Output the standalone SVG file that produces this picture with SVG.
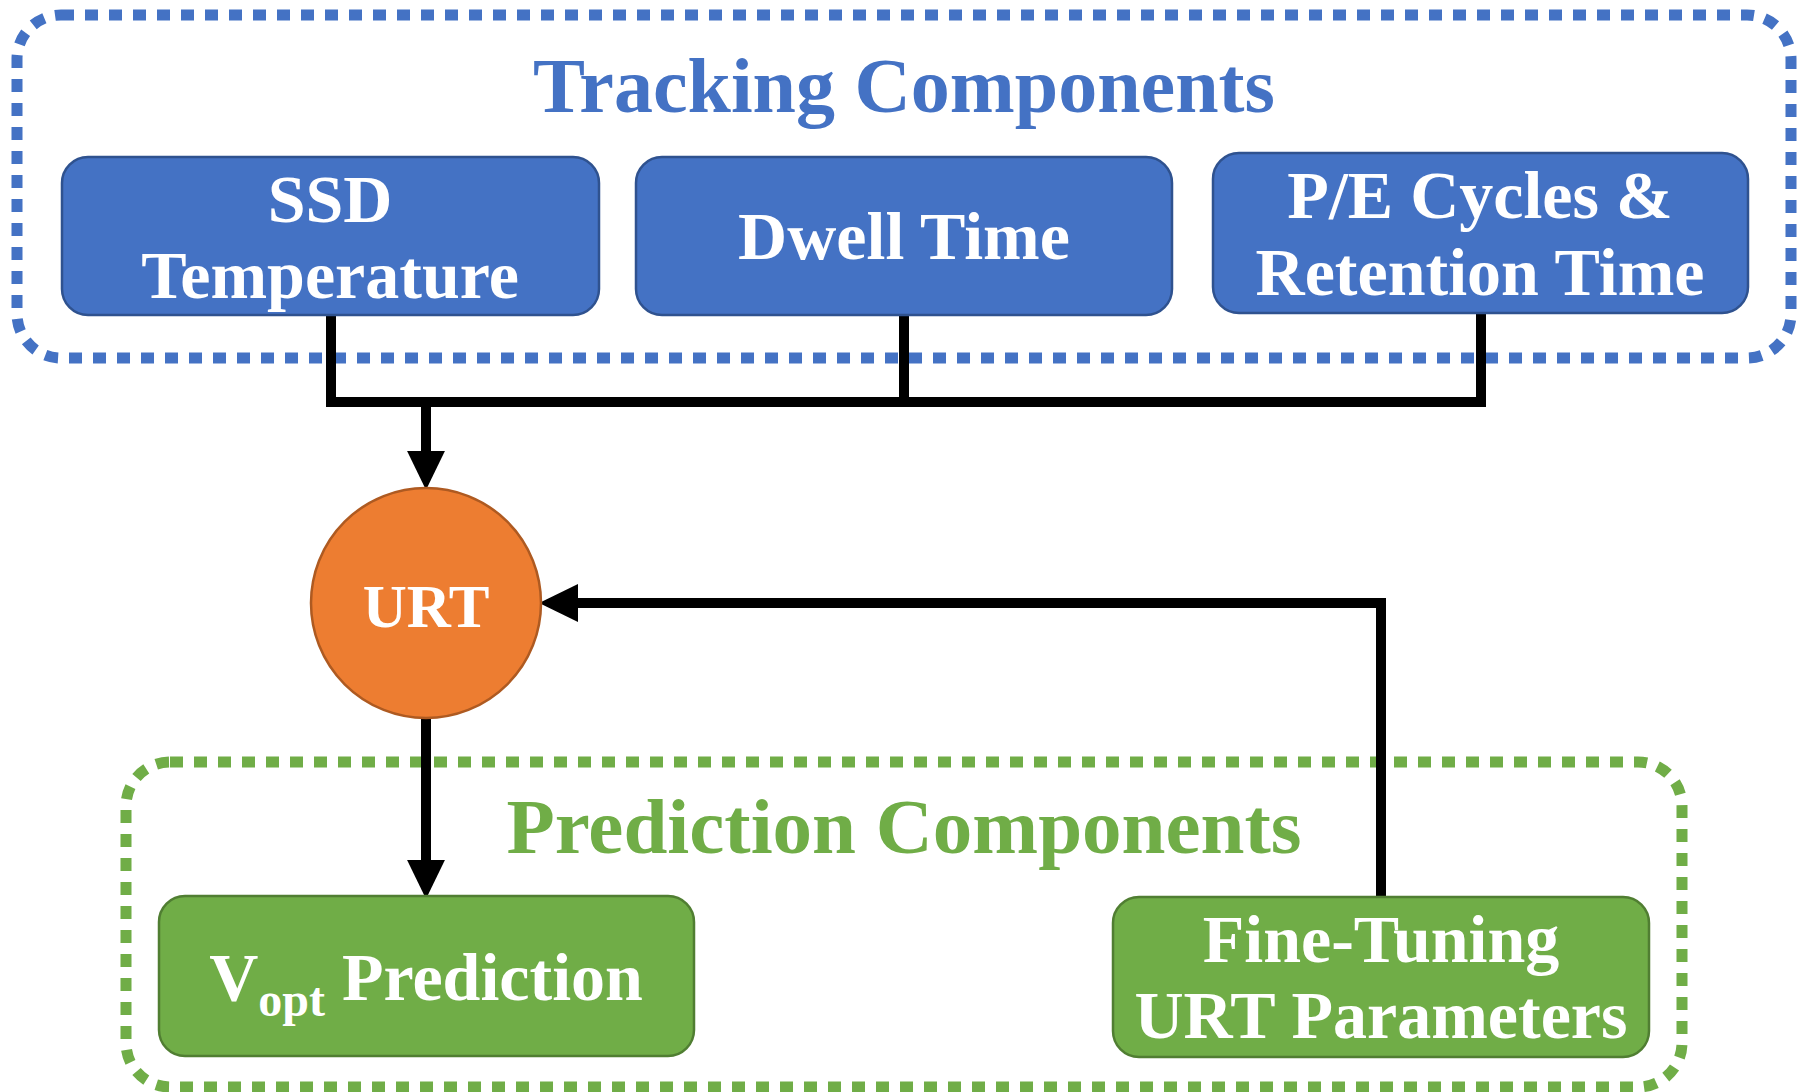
<svg xmlns="http://www.w3.org/2000/svg" width="1805" height="1092" viewBox="0 0 1805 1092">
  <style>
    .group-frame { fill: none; stroke-width: 11; stroke-dasharray: 13 11; }
    .blue-frame { stroke: #4472C4; }
    .green-frame { stroke: #70AD47; }
    .box-blue { fill: #4472C4; stroke: #2F528F; stroke-width: 2.5; }
    .box-green { fill: #70AD47; stroke: #507E32; stroke-width: 2.5; }
    .circle-orange { fill: #ED7D31; stroke: #AE5A21; stroke-width: 2.5; }
    .label { font-family: "Liberation Serif", "Times New Roman", serif; font-weight: bold; font-size: 68px; fill: #FFFFFF; text-anchor: middle; }
    .label-small { font-size: 61px; }
    .heading { font-family: "Liberation Serif", "Times New Roman", serif; font-weight: bold; font-size: 78px; text-anchor: middle; }
    .heading-wide { font-size: 79px; }
    .wire { fill: none; stroke: #000000; stroke-width: 10; stroke-linejoin: miter; }
  </style>
  <defs>
    <marker id="arrowhead" markerUnits="userSpaceOnUse" markerWidth="40" markerHeight="40" viewBox="0 -18 37 36" refX="0" refY="0" orient="auto">
      <path d="M0,-17.5 L36,0 L0,17.5 Z" fill="#000000"/>
    </marker>
  </defs>

  <!-- group frames -->
  <g id="tracking-components">
    <rect class="group-frame blue-frame" x="17" y="15" width="1774" height="343" rx="44" ry="44"/>
    <text class="heading" x="904" y="112" fill="#4472C4">Tracking Components</text>
  </g>
  <g id="prediction-components">
    <rect class="group-frame green-frame" x="126" y="762" width="1556" height="325" rx="44" ry="44"/>
    <text class="heading heading-wide" x="904" y="853" fill="#70AD47">Prediction Components</text>
  </g>

  <!-- connectors -->
  <g id="connectors">
    <path class="wire" d="M331,315 V402 H426"/>
    <path class="wire" d="M904,315 V402 H426"/>
    <path class="wire" d="M1481,313 V402 H426"/>
    <path class="wire" d="M426,402 V451" marker-end="url(#arrowhead)"/>
    <path class="wire" d="M426,718 V860" marker-end="url(#arrowhead)"/>
    <path class="wire" d="M1381,897 V603 H578" marker-end="url(#arrowhead)"/>
  </g>

  <!-- tracking nodes -->
  <g id="ssd-temperature">
    <rect class="box-blue" x="62" y="157" width="537" height="158" rx="26" ry="26"/>
    <text class="label" x="330" y="222">SSD</text>
    <text class="label" x="330" y="298">Temperature</text>
  </g>
  <g id="dwell-time">
    <rect class="box-blue" x="636" y="157" width="536" height="158" rx="26" ry="26"/>
    <text class="label" x="904" y="259">Dwell Time</text>
  </g>
  <g id="pe-cycles-retention">
    <rect class="box-blue" x="1213" y="153" width="535" height="160" rx="26" ry="26"/>
    <text class="label" x="1480" y="218">P/E Cycles &amp;</text>
    <text class="label" x="1480" y="295">Retention Time</text>
  </g>

  <!-- URT -->
  <g id="urt">
    <circle class="circle-orange" cx="426" cy="603" r="115"/>
    <text class="label label-small" x="426" y="627">URT</text>
  </g>

  <!-- prediction nodes -->
  <g id="vopt-prediction">
    <rect class="box-green" x="159" y="896" width="535" height="160" rx="26" ry="26"/>
    <text class="label" x="426" y="1000">V<tspan font-size="48" dy="16">opt</tspan><tspan dy="-16"> Prediction</tspan></text>
  </g>
  <g id="fine-tuning">
    <rect class="box-green" x="1113" y="897" width="536" height="160" rx="26" ry="26"/>
    <text class="label" x="1381" y="962">Fine-Tuning</text>
    <text class="label" x="1381" y="1038">URT Parameters</text>
  </g>
</svg>
